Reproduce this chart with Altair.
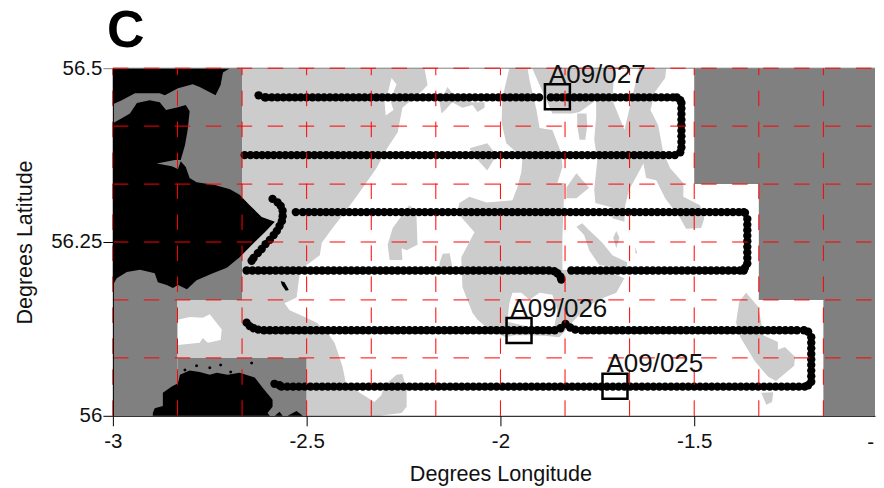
import altair as alt
import pandas as pd

FONT = "Liberation Sans"
WHITE, LIGHT, DARK, BLACK = "#ffffff", "#cccccc", "#808080", "#000000"
X_END = -1.0335  # last longitude that fits on the page

# ---- rectangular no-data blocks (lon, lon2, lat, lat2)
dark_lon = [-3, -3, -2.8333, -1.5, -1.3333, -1.1667]
dark_lon2 = [-2.6667, -2.8333, -2.5, X_END, X_END, X_END]
dark_lat = [56.1667, 56, 56, 56.3333, 56.1667, 56]
dark_lat2 = [56.5, 56.1667, 56.0833, 56.5, 56.3333, 56.1667]

# ---- shallow (light) polygons
light_main_lon = [-2.6667,-2.196,-2.188,-2.201,-2.253,-2.265,-2.291,-2.320,-2.363,-2.397,-2.433,-2.461,-2.466,-2.5,-2.518,-2.526,-2.557,-2.544,-2.505,-2.474,-2.446,-2.428,-2.407,-2.399,-2.363,-2.325,-2.307,-2.299,-2.268,-2.253,-2.242,-2.242,-2.255,-2.312,-2.5,-2.5,-2.8333,-2.8333,-2.6667]
light_main_lat = [56.5,56.5,56.476,56.468,56.443,56.408,56.386,56.356,56.322,56.296,56.270,56.249,56.231,56.217,56.205,56.170,56.162,56.152,56.142,56.134,56.119,56.105,56.070,56.047,56.033,56.020,56.030,56.044,56.059,56.060,56.037,56.013,56.004,56,56,56.0833,56.0833,56.1667,56.1667]
light_e_lon = [-2.137,-2.124,-2.098,-2.072,-2.041,-2.041,-2.059,-2.072,-2.098,-2.124,-2.137,-2.152,-2.157,-2.144]
light_e_lat = [56.473,56.464,56.457,56.451,56.451,56.443,56.437,56.447,56.443,56.451,56.443,56.435,56.451,56.464]
light_e2_lon = [-2.080,-2.034,-2.010,-2.034,-2.054]
light_e2_lat = [56.385,56.392,56.375,56.353,56.365]
light_f_lon = [-1.977,-1.930,-1.925,-1.907,-1.899,-1.866,-1.843,-1.840,-1.853,-1.835,-1.840,-1.840,-1.719,-1.680,-1.701,-1.732,-1.771,-1.809,-1.830,-1.848,-1.887,-1.925,-1.964,-1.985,-2.023,-2.059,-2.072,-2.098,-2.101,-2.067,-2.111,-2.106,-2.080,-2.036,-1.969,-1.956,-1.946,-1.943,-1.985,-1.997,-1.995]
light_f_lat = [56.5,56.5,56.483,56.440,56.414,56.411,56.378,56.358,56.335,56.335,56.257,56.210,56.207,56.198,56.177,56.170,56.159,56.138,56.124,56.113,56.115,56.116,56.116,56.113,56.121,56.138,56.148,56.185,56.228,56.264,56.292,56.306,56.315,56.307,56.310,56.329,56.351,56.371,56.392,56.422,56.457]
light_g_lon = [-1.918,-1.706,-1.711,-1.680,-1.662,-1.642,-1.572,-1.575,-1.601,-1.613,-1.593,-1.580,-1.562,-1.528,-1.528,-1.485,-1.474,-1.482,-1.521,-1.536,-1.575,-1.598,-1.624,-1.631,-1.668,-1.678,-1.680,-1.711,-1.714,-1.755,-1.758,-1.750,-1.758,-1.753,-1.753,-1.796,-1.814,-1.866,-1.881,-1.899]
light_g_lat = [56.5,56.5,56.454,56.411,56.454,56.5,56.5,56.486,56.466,56.440,56.418,56.379,56.356,56.335,56.315,56.303,56.284,56.270,56.269,56.284,56.313,56.339,56.342,56.363,56.325,56.303,56.279,56.284,56.300,56.306,56.325,56.368,56.397,56.430,56.454,56.437,56.435,56.435,56.454,56.476]
light_h_lon = [-1.830,-1.804,-1.771,-1.804,-1.830]
light_h_lat = [56.328,56.349,56.328,56.313,56.313]
light_i_lon = [-1.802,-1.778,-1.776,-1.781,-1.796,-1.802]
light_i_lat = [56.435,56.435,56.418,56.397,56.397,56.418]
light_j_lon = [-1.804,-1.789,-1.771,-1.737,-1.711,-1.673,-1.673,-1.745,-1.771,-1.784]
light_j_lat = [56.272,56.277,56.267,56.249,56.231,56.221,56.210,56.217,56.238,56.260]
light_k_lon = [-1.701,-1.693,-1.701,-1.709]
light_k_lat = [56.266,56.256,56.241,56.256]
light_l_lon = [-1.652,-1.647,-1.652]
light_l_lat = [56.243,56.234,56.234]
light_m_lon = [-2.235,-2.217,-2.214,-2.242,-2.255,-2.253,-2.286,-2.291,-2.278]
light_m_lat = [56.303,56.293,56.246,56.238,56.241,56.224,56.224,56.246,56.270]
light_n_lon = [-2.157,-2.149,-2.131,-2.124,-2.157]
light_n_lat = [56.220,56.233,56.234,56.213,56.213]
light_o_lon = [-1.366,-1.335,-1.327,-1.322,-1.284,-1.284,-1.266,-1.240,-1.242,-1.289,-1.309,-1.343,-1.381,-1.392,-1.384]
light_o_lat = [56.177,56.157,56.134,56.116,56.106,56.095,56.099,56.085,56.072,56.050,56.056,56.078,56.113,56.134,56.164]
light_p_lon = [-1.327,-1.296,-1.299,-1.314]
light_p_lat = [56.033,56.034,56.020,56.016]

# ---- white holes in the light areas
hole_a_lon = [-2.832,-2.802,-2.768,-2.750,-2.719,-2.722,-2.755,-2.768,-2.776,-2.832]
hole_a_lat = [56.138,56.142,56.141,56.146,56.124,56.109,56.105,56.112,56.105,56.102]
hole_b_lon = [-2.281,-2.268,-2.284,-2.276,-2.296,-2.299,-2.289]
hole_b_lat = [56.486,56.477,56.454,56.440,56.432,56.451,56.468]
hole_c_lon = [-1.977,-1.969,-1.946,-1.925,-1.899,-1.866,-1.853,-1.861,-1.925,-1.982]
hole_c_lat = [56.162,56.177,56.177,56.167,56.177,56.174,56.152,56.128,56.128,56.135]

# ---- land (black) polygons
land_a_lon = [-3,-2.698,-2.716,-2.722,-2.735,-2.776,-2.794,-2.832,-2.866,-2.879,-2.943,-2.977,-3]
land_a_lat = [56.5,56.5,56.494,56.476,56.461,56.473,56.477,56.471,56.461,56.464,56.464,56.454,56.448]
land_b_lon = [-3,-2.977,-2.956,-2.938,-2.905,-2.879,-2.863,-2.832,-2.812,-2.802,-2.807,-2.814,-2.825,-2.840,-2.887,-2.848,-2.832,-2.825,-2.812,-2.802,-2.784,-2.737,-2.698,-2.673,-2.647,-2.616,-2.582,-2.608,-2.634,-2.673,-2.706,-2.742,-2.784,-2.809,-2.832,-2.845,-2.861,-2.884,-2.892,-2.930,-2.964,-2.990,-3]
land_b_lat = [56.421,56.428,56.435,56.450,56.454,56.451,56.440,56.444,56.447,56.438,56.411,56.389,56.368,56.368,56.363,56.359,56.355,56.366,56.358,56.342,56.336,56.332,56.326,56.318,56.303,56.286,56.279,56.264,56.250,56.228,56.213,56.205,56.195,56.182,56.188,56.184,56.188,56.192,56.205,56.210,56.207,56.198,56.188]
land_c_lon = [-2.897,-2.897,-2.892,-2.871,-2.871,-2.848,-2.832,-2.827,-2.802,-2.776,-2.750,-2.732,-2.704,-2.673,-2.634,-2.613,-2.588,-2.588,-2.601,-2.595]
land_c_lat = [56,56.004,56.011,56.014,56.033,56.042,56.047,56.059,56.065,56.063,56.059,56.062,56.059,56.062,56.055,56.040,56.023,56.013,56.004,56]
land_d_lon = [-2.582,-2.570,-2.562]
land_d_lat = [56,56.006,56]
land_e_lon = [-2.549,-2.526,-2.510]
land_e_lat = [56,56.007,56]
land_f_lon = [-2.567,-2.557,-2.546,-2.554,-2.564]
land_f_lat = [56.194,56.192,56.181,56.180,56.188]
speck_lon = [-2.642,-2.722,-2.784,-2.750,-2.814,-2.696]
speck_lat = [56.076,56.073,56.072,56.069,56.066,56.063]

# ---- survey track: horizontal runs (one latitude, many longitudes)
row1_lat = 56.458
row1_lon = [-2.605,-2.590,-2.575,-2.560,-2.545,-2.530,-2.515,-2.500,-2.485,-2.470,-2.455,-2.440,-2.425,-2.410,-2.395,-2.380,-2.365,-2.350,-2.335,-2.320,-2.305,-2.290,-2.275,-2.260,-2.245,-2.230,-2.215,-2.200,-2.185,-2.170,-2.155,-2.140,-2.125,-2.110,-2.095,-2.080,-2.065,-2.050,-2.035,-2.020,-2.005,-1.990,-1.975,-1.960,-1.945,-1.930,-1.915,-1.900,-1.870,-1.855,-1.840,-1.825,-1.810,-1.795,-1.780,-1.765,-1.750,-1.735,-1.720,-1.705,-1.690,-1.675,-1.660,-1.645,-1.630,-1.615,-1.600,-1.585,-1.570,-1.555,-1.545]
row2_lat = 56.375
row2_lon = [-2.660,-2.645,-2.630,-2.615,-2.600,-2.585,-2.570,-2.555,-2.540,-2.525,-2.510,-2.495,-2.480,-2.465,-2.450,-2.435,-2.420,-2.405,-2.390,-2.375,-2.360,-2.345,-2.330,-2.315,-2.300,-2.285,-2.270,-2.255,-2.240,-2.225,-2.210,-2.195,-2.180,-2.165,-2.150,-2.135,-2.120,-2.105,-2.090,-2.075,-2.060,-2.045,-2.030,-2.015,-2.000,-1.985,-1.970,-1.955,-1.940,-1.925,-1.910,-1.895,-1.880,-1.865,-1.850,-1.835,-1.820,-1.805,-1.790,-1.775,-1.760,-1.745,-1.730,-1.715,-1.700,-1.685,-1.670,-1.655,-1.640,-1.625,-1.610,-1.595,-1.580,-1.565,-1.550]
row3_lat = 56.293
row3_lon = [-2.528,-2.510,-2.495,-2.480,-2.465,-2.450,-2.435,-2.420,-2.405,-2.390,-2.375,-2.360,-2.345,-2.330,-2.315,-2.300,-2.285,-2.270,-2.255,-2.240,-2.225,-2.210,-2.195,-2.180,-2.165,-2.150,-2.135,-2.120,-2.105,-2.090,-2.075,-2.060,-2.045,-2.030,-2.015,-2.000,-1.985,-1.970,-1.955,-1.940,-1.925,-1.910,-1.895,-1.880,-1.865,-1.850,-1.835,-1.820,-1.805,-1.790,-1.775,-1.760,-1.745,-1.730,-1.715,-1.700,-1.685,-1.670,-1.655,-1.640,-1.625,-1.610,-1.595,-1.580,-1.565,-1.550,-1.535,-1.520,-1.505,-1.490,-1.475,-1.460,-1.445,-1.430,-1.415,-1.400,-1.385,-1.372]
row4_lat = 56.209
row4_lon = [-2.655,-2.640,-2.625,-2.610,-2.595,-2.580,-2.565,-2.550,-2.535,-2.520,-2.505,-2.490,-2.475,-2.460,-2.445,-2.430,-2.415,-2.400,-2.385,-2.370,-2.355,-2.340,-2.325,-2.310,-2.295,-2.280,-2.265,-2.250,-2.235,-2.220,-2.205,-2.190,-2.175,-2.160,-2.145,-2.130,-2.115,-2.100,-2.085,-2.070,-2.055,-2.040,-2.025,-2.010,-1.995,-1.980,-1.965,-1.950,-1.935,-1.920,-1.905,-1.890,-1.875,-1.817,-1.802,-1.787,-1.772,-1.757,-1.742,-1.727,-1.712,-1.697,-1.682,-1.667,-1.652,-1.637,-1.622,-1.607,-1.592,-1.577,-1.562,-1.547,-1.532,-1.517,-1.502,-1.487,-1.472,-1.457,-1.442,-1.427,-1.412,-1.397,-1.382,-1.372]
row5_lat = 56.123
row5_lon = [-2.610,-2.595,-2.580,-2.565,-2.550,-2.535,-2.520,-2.505,-2.490,-2.475,-2.460,-2.445,-2.430,-2.415,-2.400,-2.385,-2.370,-2.355,-2.340,-2.325,-2.310,-2.295,-2.280,-2.265,-2.250,-2.235,-2.220,-2.205,-2.190,-2.175,-2.160,-2.145,-2.130,-2.115,-2.100,-2.085,-2.070,-2.055,-2.040,-2.025,-2.010,-1.995,-1.980,-1.965,-1.950,-1.935,-1.920,-1.905,-1.890,-1.875,-1.860,-1.790,-1.775,-1.760,-1.745,-1.730,-1.715,-1.700,-1.685,-1.670,-1.655,-1.640,-1.625,-1.610,-1.595,-1.580,-1.565,-1.550,-1.535,-1.520,-1.505,-1.490,-1.475,-1.460,-1.445,-1.430,-1.415,-1.400,-1.385,-1.370,-1.355,-1.340,-1.325,-1.310,-1.295,-1.280,-1.265,-1.250,-1.235,-1.217]
row6_lat = 56.042
row6_lon = [-2.565,-2.550,-2.535,-2.520,-2.505,-2.490,-2.475,-2.460,-2.445,-2.430,-2.415,-2.400,-2.385,-2.370,-2.355,-2.340,-2.325,-2.310,-2.295,-2.280,-2.265,-2.250,-2.235,-2.220,-2.205,-2.190,-2.175,-2.160,-2.145,-2.130,-2.115,-2.100,-2.085,-2.070,-2.055,-2.040,-2.025,-2.010,-1.995,-1.980,-1.965,-1.950,-1.935,-1.920,-1.905,-1.890,-1.875,-1.860,-1.845,-1.830,-1.815,-1.800,-1.785,-1.770,-1.755,-1.740,-1.725,-1.710,-1.695,-1.680,-1.665,-1.650,-1.635,-1.620,-1.605,-1.590,-1.575,-1.560,-1.545,-1.530,-1.515,-1.500,-1.485,-1.470,-1.455,-1.440,-1.425,-1.410,-1.395,-1.380,-1.365,-1.350,-1.335,-1.320,-1.305,-1.290,-1.275,-1.260,-1.245,-1.230,-1.215]
# turns and curved legs (lon, lat of each fix)
turn_lon = [-2.624,-2.608,-1.536,-1.533,-1.533,-1.533,-1.533,-1.533,-1.533,-1.533,-1.533,-1.533,-1.536,-1.369,-1.363,-1.363,-1.363,-1.363,-1.363,-1.363,-1.363,-1.363,-1.363,-1.369,-1.206,-1.198,-1.198,-1.198,-1.198,-1.198,-1.198,-1.198,-1.198,-1.198,-1.206]
turn_lat = [56.461,56.458,56.454,56.450,56.442,56.434,56.426,56.418,56.410,56.402,56.394,56.386,56.379,56.292,56.283,56.275,56.267,56.259,56.251,56.243,56.235,56.227,56.219,56.213,56.121,56.113,56.105,56.097,56.089,56.081,56.073,56.065,56.057,56.049,56.044]
curve_lon = [-2.588,-2.575,-2.567,-2.562,-2.562,-2.564,-2.570,-2.577,-2.585,-2.595,-2.606,-2.616,-2.626,-2.637,-2.642,-1.861,-1.853,-1.845,-1.843,-2.655,-2.647,-2.637,-2.625,-1.845,-1.832,-1.820,-1.807,-2.583,-2.570]
curve_lat = [56.312,56.307,56.302,56.295,56.287,56.280,56.273,56.266,56.260,56.253,56.247,56.240,56.234,56.227,56.223,56.208,56.205,56.200,56.196,56.134,56.129,56.126,56.124,56.126,56.132,56.127,56.124,56.046,56.044]

# ---- station boxes and labels
station_lon = [-1.853, -1.952, -1.7044]
station_lat = [56.459, 56.1226, 56.0424]
station_name = ["A09/027", "A09/026", "A09/025"]

# ---- dashed reference graticule
grid_lon = [-2.8333, -2.6667, -2.5, -2.3333, -2.1667, -2, -1.8333, -1.6667, -1.5, -1.3333, -1.1667, -3]
grid_lat = [56.5, 56.4167, 56.3333, 56.25, 56.1667, 56.0833]

x_ticks = [-3, -2.5, -2, -1.5]
y_ticks = [56, 56.25, 56.5]

xs = alt.Scale(domain=[-3, X_END], nice=False, zero=False)
ys = alt.Scale(domain=[56, 56.5], nice=False, zero=False)
xa = alt.Axis(values=x_ticks, title="Degrees Longitude", grid=False, tickSize=10, zindex=1,
              labelExpr="replace(format(datum.value,'.3~g'),'−','-')", labelPadding=6, titlePadding=11,
              titleX=388, labelFlush=False, labelOverlap=False)
ya = alt.Axis(values=y_ticks, title="Degrees Latitude", grid=False, tickSize=10, zindex=1,
              format=".4~g", labelPadding=1, titlePadding=14.4,
              tickColor=alt.condition("datum.value == 56.5", alt.value(DARK), alt.value(BLACK)))
X = alt.X("lon:Q", scale=xs, axis=xa)
Y = alt.Y("lat:Q", scale=ys, axis=ya)


def polys(color, *pairs):
    rows = []
    for k, (lons, lats) in enumerate(pairs):
        for i, (a, b) in enumerate(zip(lons, lats)):
            rows.append({"p": k, "i": i, "lon": a, "lat": b})
    return alt.Chart(pd.DataFrame(rows)).mark_line(fill=color, strokeWidth=0, interpolate="linear-closed").encode(
        x=X, y=Y, detail="p:N", order=alt.Order("i:Q"))


dark = alt.Chart(pd.DataFrame({"lon": dark_lon, "lon2": dark_lon2, "lat": dark_lat, "lat2": dark_lat2})).mark_rect(
    color=DARK, strokeWidth=0).encode(x=X, x2="lon2:Q", y=Y, y2="lat2:Q")

light = polys(LIGHT,
              (light_main_lon, light_main_lat), (light_e_lon, light_e_lat), (light_e2_lon, light_e2_lat),
              (light_f_lon, light_f_lat), (light_g_lon, light_g_lat), (light_h_lon, light_h_lat),
              (light_i_lon, light_i_lat), (light_j_lon, light_j_lat), (light_k_lon, light_k_lat),
              (light_l_lon, light_l_lat), (light_m_lon, light_m_lat), (light_n_lon, light_n_lat),
              (light_o_lon, light_o_lat), (light_p_lon, light_p_lat))
holes = polys(WHITE, (hole_a_lon, hole_a_lat), (hole_b_lon, hole_b_lat), (hole_c_lon, hole_c_lat))
land = polys(BLACK, (land_a_lon, land_a_lat), (land_b_lon, land_b_lat), (land_c_lon, land_c_lat),
             (land_d_lon, land_d_lat), (land_e_lon, land_e_lat), (land_f_lon, land_f_lat))
specks = alt.Chart(pd.DataFrame({"lon": speck_lon, "lat": speck_lat})).mark_circle(
    size=9, color=BLACK, opacity=1).encode(x=X, y=Y)

track_rows = []
for lat, lons in [(row1_lat, row1_lon), (row2_lat, row2_lon), (row3_lat, row3_lon),
                  (row4_lat, row4_lon), (row5_lat, row5_lon), (row6_lat, row6_lon)]:
    track_rows += [{"lon": a, "lat": lat} for a in lons]
track_rows += [{"lon": a, "lat": b} for a, b in zip(turn_lon, turn_lat)]
track_rows += [{"lon": a, "lat": b} for a, b in zip(curve_lon, curve_lat)]
track = alt.Chart(pd.DataFrame(track_rows)).mark_circle(size=70, color=BLACK, opacity=1).encode(x=X, y=Y)

top_edge = alt.Chart(pd.DataFrame({"lat": [56.5], "a": [-3], "b": [X_END]})).mark_rule(
    color=DARK, strokeWidth=1).encode(x=alt.X("a:Q", scale=xs, axis=xa), x2="b:Q", y=Y)
h_grid = alt.Chart(pd.DataFrame({"lat": grid_lat, "a": -3, "b": X_END})).mark_rule(
    color="#ff0000", strokeWidth=1, strokeDash=[15.5, 15.5]).encode(
    x=alt.X("a:Q", scale=xs, axis=xa), x2="b:Q", y=Y)
v_grid = alt.Chart(pd.DataFrame({"lon": grid_lon, "a": 56, "b": 56.5})).mark_rule(
    color="#ff0000", strokeWidth=1, strokeDash=[15.5, 15.5]).encode(
    x=X, y=alt.Y("a:Q", scale=ys, axis=ya), y2="b:Q")

st = pd.DataFrame({"lon": station_lon, "lat": station_lat, "name": station_name})
boxes = alt.Chart(st).mark_square(size=625, filled=False, stroke=BLACK, strokeWidth=2.5, opacity=1).encode(x=X, y=Y)
labels = alt.Chart(st).mark_text(font=FONT, fontSize=26, align="left", baseline="alphabetic", dx=-8.5, dy=-14,
                                 color="#111111").encode(x=X, y=Y, text="name:N")
edge_label = alt.Chart(pd.DataFrame({"t": ["-"]})).mark_text(
    font=FONT, fontSize=20.5, align="right", baseline="middle", color="#111111").encode(
    x=alt.value(762), y=alt.value(375), text="t:N")

chart = alt.layer(dark, light, holes, land, specks, track, top_edge, h_grid, v_grid, boxes, labels, edge_label).properties(
    width=763, height=348,
    padding={"left": 6, "top": -4, "right": 0, "bottom": 0},
    title=alt.TitleParams(text="C", anchor="start", frame="group", font=FONT, fontSize=52, fontWeight="bold",
                          color=BLACK, dx=-6, offset=0.5),
    background="white",
).configure_view(stroke=None).configure_axis(
    labelFont=FONT, titleFont=FONT, labelFontSize=20.5, titleFontSize=21.6, titleFontWeight="normal",
    labelColor="#111111", titleColor="#111111", domainColor=BLACK, tickColor=BLACK, domainWidth=1, tickWidth=1)

chart.save("out.html", embed_options={"renderer": "svg", "actions": False})
